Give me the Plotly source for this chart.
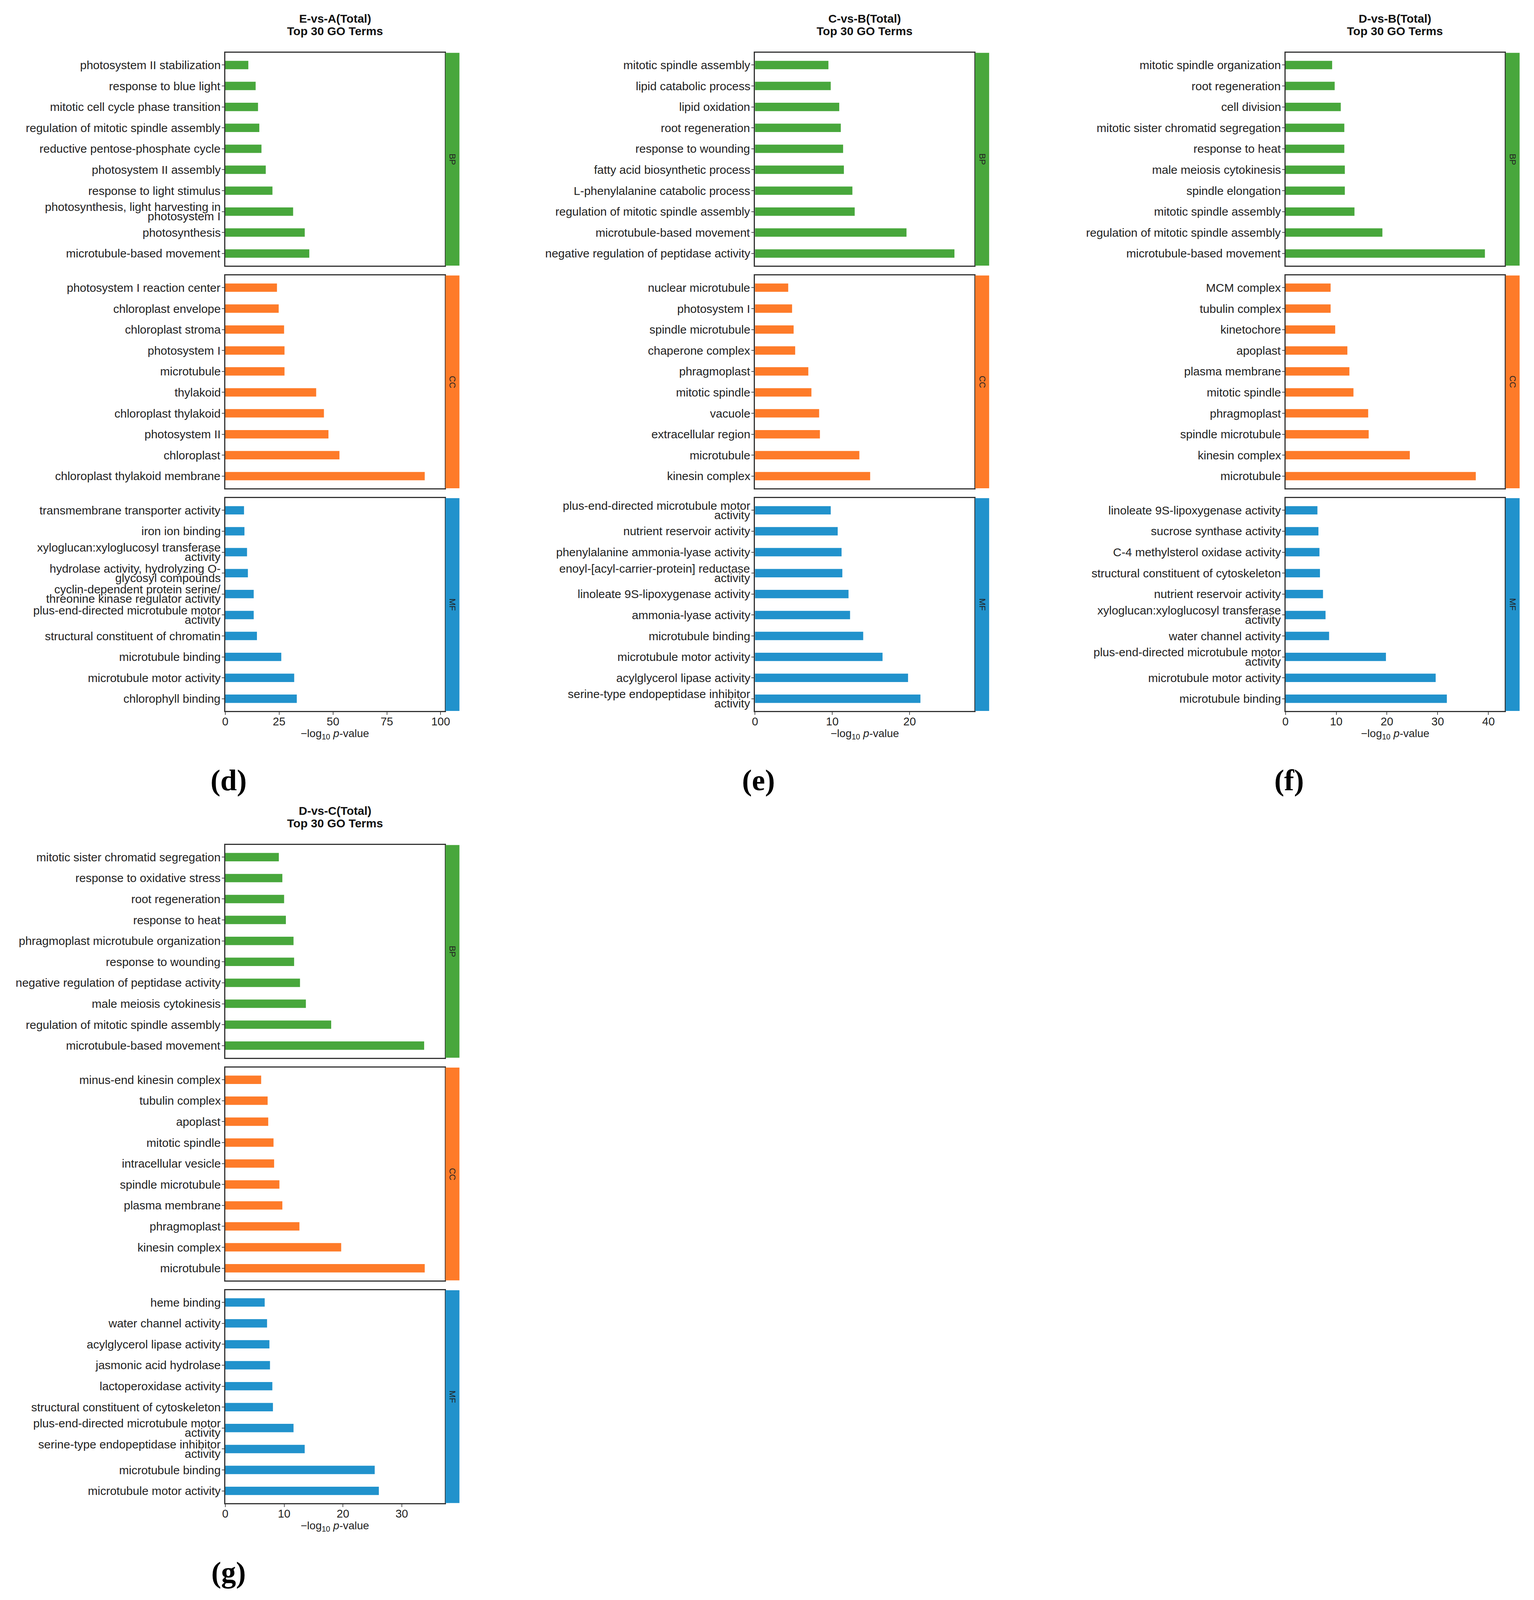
import plotly.graph_objects as go

# ---- data, terms listed top to bottom ----
d_title = "E-vs-A(Total)"
d_bp_terms = ["photosystem II stabilization", "response to blue light", "mitotic cell cycle phase transition",
              "regulation of mitotic spindle assembly", "reductive pentose-phosphate cycle",
              "photosystem II assembly", "response to light stimulus",
              "photosynthesis, light harvesting in<br>photosystem I", "photosynthesis",
              "microtubule-based movement"]
d_bp_vals = [10.7, 14.1, 15.2, 15.8, 16.8, 18.8, 21.9, 31.5, 36.9, 39.0]
d_cc_terms = ["photosystem I reaction center", "chloroplast envelope", "chloroplast stroma", "photosystem I",
              "microtubule", "thylakoid", "chloroplast thylakoid", "photosystem II", "chloroplast",
              "chloroplast thylakoid membrane"]
d_cc_vals = [24.0, 24.8, 27.3, 27.5, 27.5, 42.2, 45.8, 47.9, 53.0, 92.6]
d_mf_terms = ["transmembrane transporter activity", "iron ion binding",
              "xyloglucan:xyloglucosyl transferase<br>activity",
              "hydrolase activity, hydrolyzing O-<br>glycosyl compounds",
              "cyclin-dependent protein serine/<br>threonine kinase regulator activity",
              "plus-end-directed microtubule motor<br>activity", "structural constituent of chromatin",
              "microtubule binding", "microtubule motor activity", "chlorophyll binding"]
d_mf_vals = [8.7, 8.9, 10.1, 10.5, 13.2, 13.2, 14.7, 26.0, 32.0, 33.2]

e_title = "C-vs-B(Total)"
e_bp_terms = ["mitotic spindle assembly", "lipid catabolic process", "lipid oxidation", "root regeneration",
              "response to wounding", "fatty acid biosynthetic process", "L-phenylalanine catabolic process",
              "regulation of mitotic spindle assembly", "microtubule-based movement",
              "negative regulation of peptidase activity"]
e_bp_vals = [9.5, 9.8, 10.9, 11.1, 11.4, 11.5, 12.6, 12.9, 19.6, 25.8]
e_cc_terms = ["nuclear microtubule", "photosystem I", "spindle microtubule", "chaperone complex", "phragmoplast",
              "mitotic spindle", "vacuole", "extracellular region", "microtubule", "kinesin complex"]
e_cc_vals = [4.3, 4.8, 5.0, 5.2, 6.9, 7.3, 8.3, 8.4, 13.5, 14.9]
e_mf_terms = ["plus-end-directed microtubule motor<br>activity", "nutrient reservoir activity",
              "phenylalanine ammonia-lyase activity", "enoyl-[acyl-carrier-protein] reductase<br>activity",
              "linoleate 9S-lipoxygenase activity", "ammonia-lyase activity", "microtubule binding",
              "microtubule motor activity", "acylglycerol lipase activity",
              "serine-type endopeptidase inhibitor<br>activity"]
e_mf_vals = [9.8, 10.7, 11.2, 11.3, 12.1, 12.3, 14.0, 16.5, 19.8, 21.4]

f_title = "D-vs-B(Total)"
f_bp_terms = ["mitotic spindle organization", "root regeneration", "cell division",
              "mitotic sister chromatid segregation", "response to heat", "male meiosis cytokinesis",
              "spindle elongation", "mitotic spindle assembly", "regulation of mitotic spindle assembly",
              "microtubule-based movement"]
f_bp_vals = [9.2, 9.7, 10.9, 11.6, 11.6, 11.7, 11.7, 13.6, 19.1, 39.3]
f_cc_terms = ["MCM complex", "tubulin complex", "kinetochore", "apoplast", "plasma membrane", "mitotic spindle",
              "phragmoplast", "spindle microtubule", "kinesin complex", "microtubule"]
f_cc_vals = [8.9, 8.9, 9.8, 12.2, 12.6, 13.4, 16.3, 16.4, 24.5, 37.5]
f_mf_terms = ["linoleate 9S-lipoxygenase activity", "sucrose synthase activity",
              "C-4 methylsterol oxidase activity", "structural constituent of cytoskeleton",
              "nutrient reservoir activity", "xyloglucan:xyloglucosyl transferase<br>activity",
              "water channel activity", "plus-end-directed microtubule motor<br>activity",
              "microtubule motor activity", "microtubule binding"]
f_mf_vals = [6.3, 6.5, 6.7, 6.8, 7.4, 7.9, 8.6, 19.8, 29.6, 31.8]

g_title = "D-vs-C(Total)"
g_bp_terms = ["mitotic sister chromatid segregation", "response to oxidative stress", "root regeneration",
              "response to heat", "phragmoplast microtubule organization", "response to wounding",
              "negative regulation of peptidase activity", "male meiosis cytokinesis",
              "regulation of mitotic spindle assembly", "microtubule-based movement"]
g_bp_vals = [9.1, 9.7, 10.0, 10.3, 11.6, 11.7, 12.7, 13.7, 18.0, 33.8]
g_cc_terms = ["minus-end kinesin complex", "tubulin complex", "apoplast", "mitotic spindle",
              "intracellular vesicle", "spindle microtubule", "plasma membrane", "phragmoplast",
              "kinesin complex", "microtubule"]
g_cc_vals = [6.1, 7.2, 7.3, 8.2, 8.3, 9.2, 9.7, 12.6, 19.7, 33.9]
g_mf_terms = ["heme binding", "water channel activity", "acylglycerol lipase activity",
              "jasmonic acid hydrolase", "lactoperoxidase activity", "structural constituent of cytoskeleton",
              "plus-end-directed microtubule motor<br>activity", "serine-type endopeptidase inhibitor<br>activity",
              "microtubule binding", "microtubule motor activity"]
g_mf_vals = [6.7, 7.1, 7.5, 7.6, 8.0, 8.1, 11.6, 13.5, 25.4, 26.1]

ontologies = ["BP", "CC", "MF"]
colors = {"BP": "#48a73c", "CC": "#fe7b29", "MF": "#2192cc"}

# ---- layout geometry: designed in reference pixels, placed as paper fractions ----
W, H_REF = 3928, 4517
FIG_H = 4080          # the photographed viewport is shorter than the window
FONT = "Arial, Liberation Sans, Helvetica, sans-serif"
AX_W, BOX_H, PITCH = 565, 603, 631
LABEL_SIZE = 30
LINE_GAP = 24         # tight spacing of wrapped term labels

panels = [
    dict(title=d_title, tag="(d)", left=564, top=141, dtick=25,
         terms=[d_bp_terms, d_cc_terms, d_mf_terms], vals=[d_bp_vals, d_cc_vals, d_mf_vals]),
    dict(title=e_title, tag="(e)", left=1928, top=141, dtick=10,
         terms=[e_bp_terms, e_cc_terms, e_mf_terms], vals=[e_bp_vals, e_cc_vals, e_mf_vals]),
    dict(title=f_title, tag="(f)", left=3294, top=141, dtick=10,
         terms=[f_bp_terms, f_cc_terms, f_mf_terms], vals=[f_bp_vals, f_cc_vals, f_mf_vals]),
    dict(title=g_title, tag="(g)", left=564, top=2386, dtick=10,
         terms=[g_bp_terms, g_cc_terms, g_mf_terms], vals=[g_bp_vals, g_cc_vals, g_mf_vals]),
]


def fx(p):
    return p / W


def fy(p):
    return 1 - p / H_REF


fig = go.Figure()
layout = {}
shapes = []
annotations = []
n = 0
for panel in panels:
    xmax = 1.1 * max(max(v) for v in panel["vals"])
    left = panel["left"]
    right = left + AX_W
    for k, ont in enumerate(ontologies):
        n += 1
        s = "" if n == 1 else str(n)
        top = panel["top"] + k * PITCH
        bottom = top + BOX_H
        terms = panel["terms"][k]
        fig.add_trace(go.Bar(
            x=panel["vals"][k], y=terms, orientation="h", width=0.4,
            marker=dict(color=colors[ont], line=dict(width=0)),
            xaxis="x" + s, yaxis="y" + s, showlegend=False,
        ))
        is_mf = ont == "MF"
        xaxis = dict(
            domain=[fx(left), fx(right)], anchor="y" + s, range=[0, xmax],
            showgrid=False, zeroline=False, showline=True, mirror=True,
            linecolor="#333333", linewidth=3,
            ticks="outside" if is_mf else "", ticklen=7, tickwidth=2, tickcolor="#555555",
            showticklabels=is_mf,
        )
        if is_mf:
            xaxis.update(dtick=panel["dtick"], tick0=0, ticklabelstandoff=-8,
                         tickfont=dict(family=FONT, size=29, color="#222222"))
        layout["xaxis" + s] = xaxis
        layout["yaxis" + s] = dict(
            domain=[fy(bottom), fy(top)], anchor="x" + s, type="category",
            categoryorder="array", categoryarray=terms, range=[9.58, -0.58],
            showgrid=False, zeroline=False, showline=True, mirror=True,
            linecolor="#333333", linewidth=3,
            ticks="outside", ticklen=6, tickwidth=2, tickcolor="#555555",
            showticklabels=False,
        )
        # term labels, wrapped ones with tight line spacing
        for term in terms:
            lines = term.split("<br>")
            for i, line in enumerate(lines):
                annotations.append(dict(
                    text=line, xref="x" + s + " domain", x=0, xanchor="right", xshift=-10,
                    yref="y" + s, y=term, yanchor="middle",
                    yshift=(len(lines) - 1) / 2 * LINE_GAP - i * LINE_GAP,
                    showarrow=False, font=dict(family=FONT, size=LABEL_SIZE, color="#222222")))
        # facet strip on the right
        shapes.append(dict(type="rect", xref="paper", yref="paper",
                           x0=fx(right + 2), x1=fx(right + 38), y0=fy(bottom), y1=fy(top),
                           fillcolor=colors[ont], line=dict(width=0)))
        annotations.append(dict(text=ont, xref="paper", yref="paper",
                                x=fx(right + 20), y=fy((top + bottom) / 2), textangle=90,
                                showarrow=False, xanchor="center", yanchor="middle",
                                font=dict(family=FONT, size=22, color="#222222")))
        if is_mf:
            annotations.append(dict(text="−log<sub>10</sub> <i>p</i>-value",
                                    xref="x" + s + " domain", yref="y" + s + " domain",
                                    x=0.5, y=0, yshift=-60, showarrow=False,
                                    xanchor="center", yanchor="middle",
                                    font=dict(family=FONT, size=28, color="#222222")))
            annotations.append(dict(text="<b>" + panel["tag"] + "</b>", xref="paper", yref="paper",
                                    x=fx(left + 9), y=fy(bottom + 197), showarrow=False,
                                    xanchor="center", yanchor="middle",
                                    font=dict(family="Liberation Serif, Times New Roman, serif",
                                              size=76, color="#000000")))
    cx = fx(left + AX_W / 2)
    annotations.append(dict(text="<b>" + panel["title"] + "</b>", xref="paper", yref="paper",
                            x=cx, y=fy(panel["top"]), yshift=88, showarrow=False,
                            xanchor="center", yanchor="middle",
                            font=dict(family=FONT, size=30, color="#111111")))
    annotations.append(dict(text="<b>Top 30 GO Terms</b>", xref="paper", yref="paper",
                            x=cx, y=fy(panel["top"]), yshift=56, showarrow=False,
                            xanchor="center", yanchor="middle",
                            font=dict(family=FONT, size=30, color="#111111")))

fig.update_layout(
    width=W, height=FIG_H, margin=dict(l=0, r=0, t=0, b=0),
    paper_bgcolor="white", plot_bgcolor="white",
    shapes=shapes, annotations=annotations, **layout,
)
fig.write_html("out.html")
